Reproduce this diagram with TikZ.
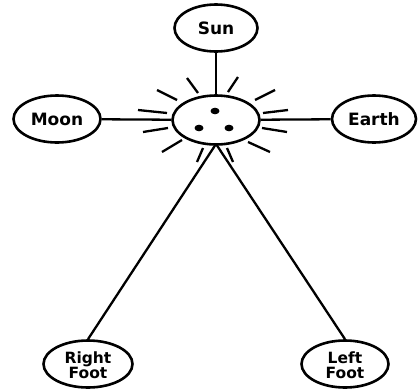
\documentclass[tikz,border=0pt]{standalone}
\usepackage{fontspec}
\setmainfont{DejaVu Sans}
\usetikzlibrary{shapes.geometric}
\begin{document}
\begin{tikzpicture}[x=1pt,y=-1pt,
  oval/.style={draw,line width=2.6pt,ellipse,minimum width=#1,minimum height=47pt,inner sep=0pt},
  lbl/.style={font=\fontsize{17}{14}\selectfont\bfseries,align=center},
  lbl2/.style={font=\fontsize{15.5}{15}\selectfont\bfseries,align=center},
  conn/.style={line width=2.3pt},
  ray/.style={line width=2.3pt}]
\useasboundingbox (0,0) rectangle (418,389);
\node[oval=83pt] (sun) at (216,28) {};
\node[lbl] at (sun) {Sun};
\node[oval=87pt] (moon) at (57,119) {};
\node[lbl] at (moon) {Moon};
\node[oval=84pt] (earth) at (374,119) {};
\node[lbl] at (earth) {Earth};
\node[oval=87pt,minimum height=49pt] (c) at (216,120) {};
\node[oval=89pt] (rf) at (88,364) {};
\node[lbl2] at (88,365) {Right\\Foot};
\node[oval=87pt] (lf) at (345,364) {};
\node[lbl2] at (345,365) {Left\\Foot};
\fill (215,111) ellipse (4.5pt and 3.3pt);
\fill (199,128) ellipse (4.5pt and 3.3pt);
\fill (229,128) ellipse (4.5pt and 3.3pt);
\coordinate (cb) at (216,144);
\draw[conn] (sun) -- (c);
\draw[conn] (moon) -- (c);
\draw[conn] (earth) -- (c);
\draw[conn] (cb) -- (rf.north);
\draw[conn] (cb) -- (lf.north);
\draw[ray] (187,78) -- (198,93);
\draw[ray] (238,77) -- (228,92);
\draw[ray] (157,90) -- (177,100);
\draw[ray] (255,100) -- (275,90);
\draw[ray] (138,110) -- (167,113);
\draw[ray] (263,113) -- (288,110);
\draw[ray] (143,132) -- (168,128);
\draw[ray] (262,128) -- (287,132);
\draw[ray] (162,152) -- (182,140);
\draw[ray] (248,142) -- (270,152);
\draw[ray] (203,148) -- (197,162);
\draw[ray] (227,148) -- (233,162);
\end{tikzpicture}
\end{document}
